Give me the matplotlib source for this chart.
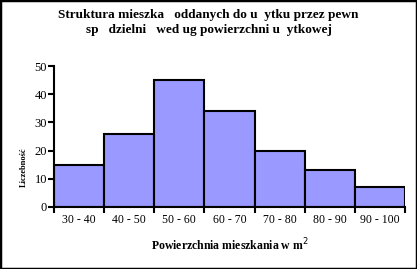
import numpy as np
import matplotlib.pyplot as plt
from matplotlib.patches import Rectangle

# Dane
przedzialy = ["30 - 40", "40 - 50", "50 - 60", "60 - 70", "70 - 80", "80 - 90", "90 - 100"]
liczebnosc = [15, 26, 45, 34, 20, 13, 7]
yticks = [0, 10, 20, 30, 40, 50]

plt.rcParams['font.family'] = ['Liberation Serif', 'DejaVu Serif']

fig = plt.figure(figsize=(4.17, 2.69), dpi=100)
ax = fig.add_axes([0.1295, 0.2305, 0.8415, 0.5241])

x = np.arange(len(liczebnosc))
ax.bar(x, liczebnosc, width=1.0, align='edge', color='#9999FF',
       edgecolor='black', linewidth=1.5)

ax.set_xlim(0, len(liczebnosc))
ax.set_ylim(0, 50)
ax.set_yticks(yticks)
ax.set_xticks(np.arange(len(liczebnosc) + 1))
ax.set_xticklabels([])
ax.set_xticks(x + 0.5, minor=True)
ax.set_xticklabels(przedzialy, minor=True, fontsize=8.5)
ax.tick_params(axis='x', which='minor', length=0, pad=5)
ax.tick_params(axis='x', which='major', length=4, width=1.5, direction='out')
ax.tick_params(axis='y', length=4, width=1.5, direction='out', labelsize=9, pad=1)

for s in ['top', 'right']:
    ax.spines[s].set_visible(False)
for s in ['left', 'bottom']:
    ax.spines[s].set_linewidth(1.5)

ax.set_xlabel("Powierzchnia mieszkania w m$^2$", fontsize=8.5, fontweight='bold', labelpad=8)
ax.set_ylabel("Liczebność", fontsize=6, fontweight='bold')
ax.yaxis.set_label_coords(-0.075, 0.28)

fig.text(0.5, 0.945, "Struktura mieszka   oddanych do u  ytku przez pewn", ha='center',
         va='center', fontsize=9.5, fontweight='bold')
fig.text(0.5, 0.89, "sp   dzielni   wed ug powierzchni u  ytkowej", ha='center',
         va='center', fontsize=9.5, fontweight='bold')

fig.patches.append(Rectangle((0, 0), 1, 1, transform=fig.transFigure, fill=False,
                             edgecolor='black', linewidth=2.5))

fig.savefig("out.png", dpi=100)
